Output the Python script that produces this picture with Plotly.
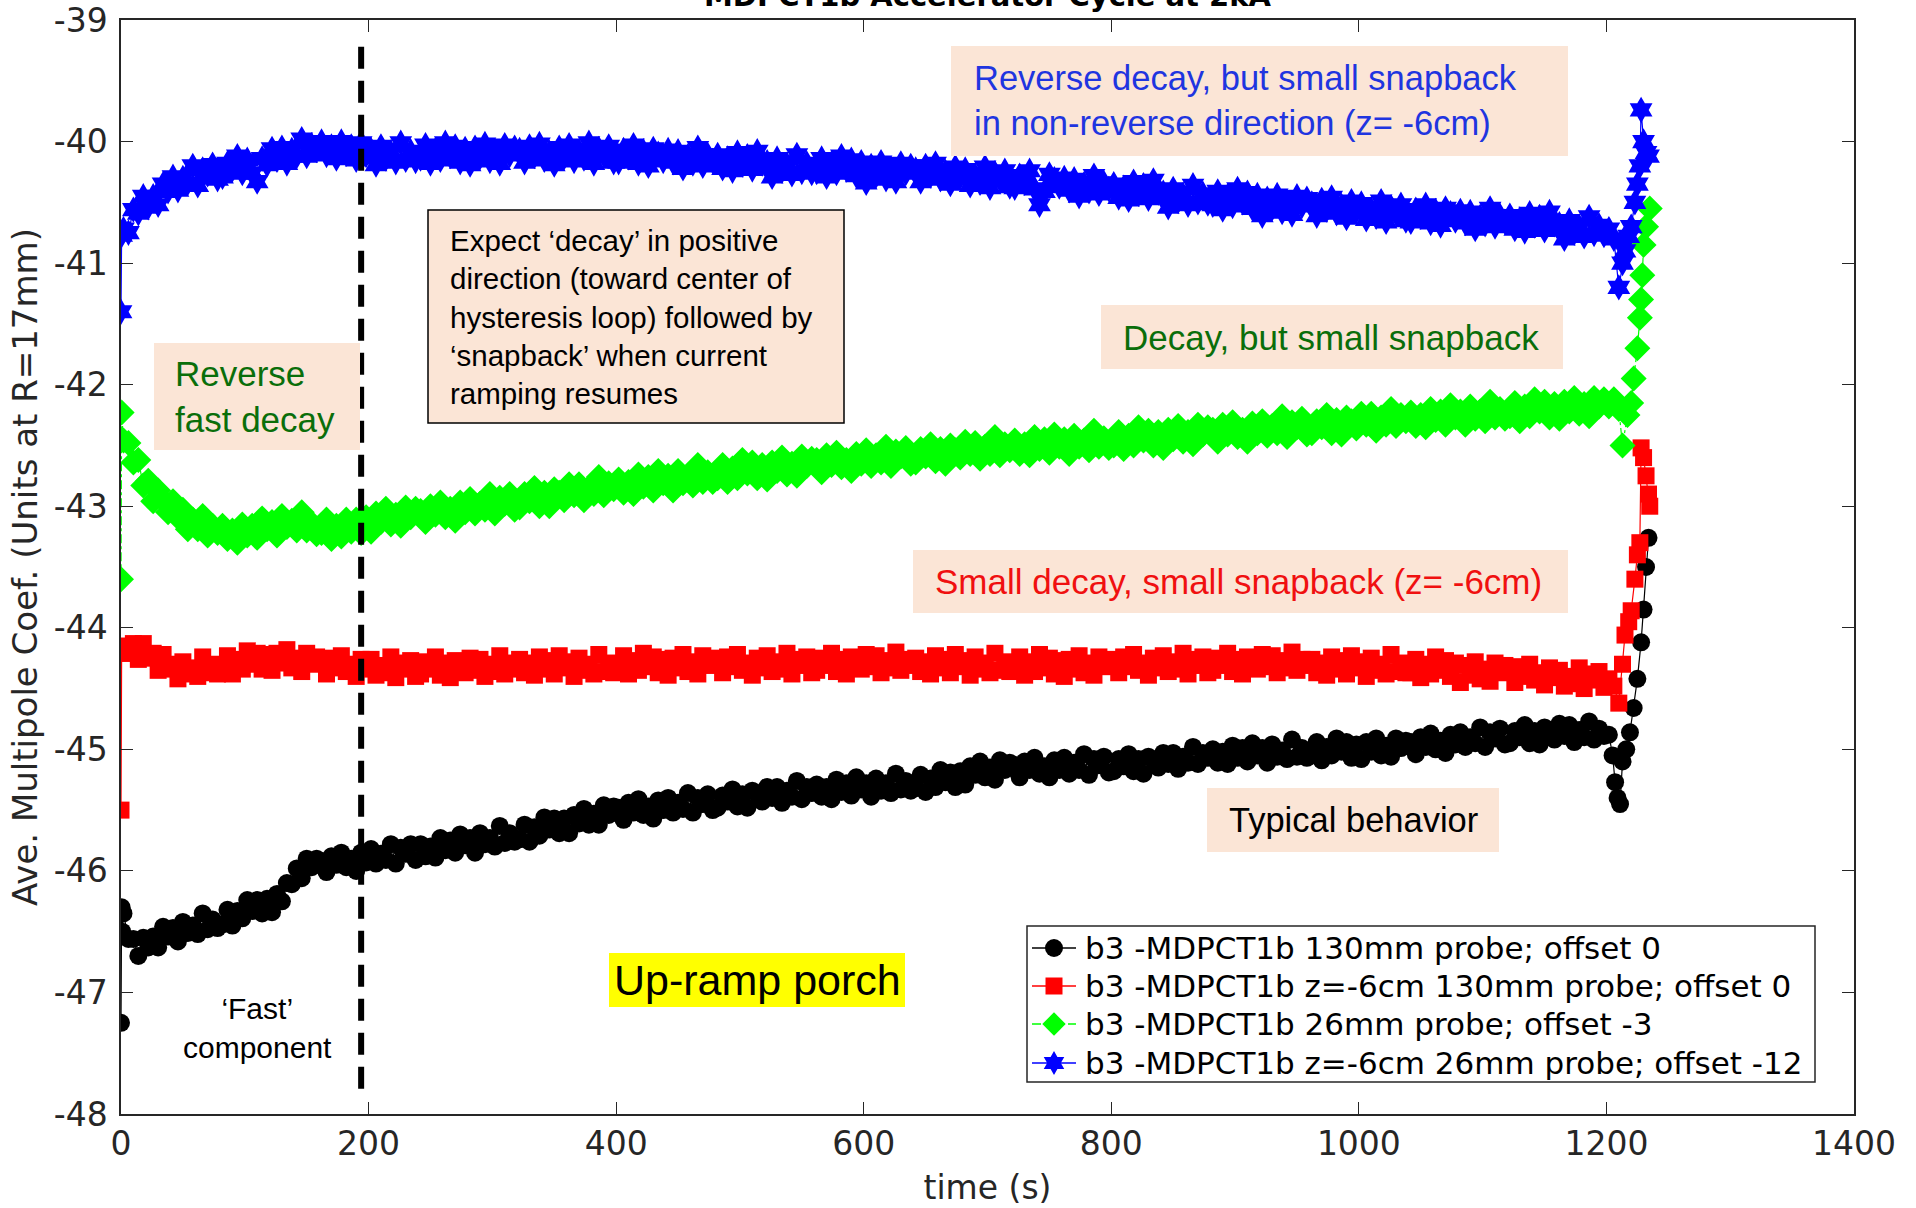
import plotly.graph_objects as go

# ---------------- data ----------------
porch_times = list(range(2, 1202, 4))  # sample times on the up-ramp porch (s)

black_start_t = [0, 0.5, 1]
black_start_v = [-47.25, -46.30, -46.50]
black_porch = [
    -46.35, -46.56, -46.56, -46.70, -46.55, -46.63, -46.54, -46.63, -46.46, -46.54, -46.47, -46.58, -46.42, -46.51, -46.45, -46.52, -46.35, -46.48, -46.40, -46.47,
    -46.44, -46.32, -46.45, -46.33, -46.39, -46.24, -46.33, -46.24, -46.35, -46.23, -46.34, -46.19, -46.25, -46.10, -46.11, -45.98, -46.06, -45.90, -45.97, -45.90,
    -45.92, -46.01, -45.88, -45.95, -45.85, -45.97, -45.90, -46.00, -45.85, -45.93, -45.82, -45.94, -45.86, -45.91, -45.78, -45.94, -45.81, -45.86, -45.78, -45.91,
    -45.78, -45.88, -45.80, -45.89, -45.73, -45.83, -45.75, -45.85, -45.70, -45.79, -45.73, -45.85, -45.69, -45.78, -45.73, -45.80, -45.63, -45.77, -45.69, -45.76,
    -45.74, -45.62, -45.76, -45.64, -45.71, -45.56, -45.66, -45.57, -45.69, -45.57, -45.69, -45.54, -45.61, -45.49, -45.62, -45.53, -45.62, -45.46, -45.54, -45.47,
    -45.48, -45.58, -45.44, -45.52, -45.41, -45.54, -45.47, -45.57, -45.42, -45.50, -45.40, -45.52, -45.44, -45.49, -45.36, -45.52, -45.40, -45.45, -45.37, -45.50,
    -45.48, -45.38, -45.43, -45.33, -45.47, -45.37, -45.48, -45.34, -45.37, -45.43, -45.31, -45.40, -45.31, -45.44, -45.34, -45.39, -45.26, -45.41, -45.31, -45.36,
    -45.29, -45.39, -45.31, -45.41, -45.25, -45.35, -45.28, -45.38, -45.23, -45.33, -45.28, -45.39, -45.24, -45.34, -45.28, -45.36, -45.20, -45.33, -45.26, -45.34,
    -45.32, -45.21, -45.35, -45.24, -45.31, -45.17, -45.27, -45.19, -45.31, -45.18, -45.29, -45.14, -45.21, -45.10, -45.23, -45.15, -45.25, -45.09, -45.17, -45.11,
    -45.13, -45.23, -45.10, -45.17, -45.07, -45.20, -45.14, -45.23, -45.09, -45.17, -45.07, -45.20, -45.11, -45.17, -45.04, -45.21, -45.08, -45.13, -45.06, -45.19,
    -45.18, -45.08, -45.14, -45.04, -45.18, -45.08, -45.20, -45.06, -45.09, -45.15, -45.03, -45.12, -45.03, -45.16, -45.06, -45.11, -44.98, -45.12, -45.03, -45.07,
    -45.00, -45.11, -45.02, -45.12, -44.97, -45.07, -44.99, -45.10, -44.95, -45.05, -44.99, -45.11, -44.96, -45.06, -45.01, -45.08, -44.92, -45.06, -44.99, -45.07,
    -45.05, -44.94, -45.09, -44.98, -45.05, -44.91, -45.02, -44.94, -45.07, -44.96, -45.08, -44.94, -45.02, -44.91, -45.05, -44.97, -45.06, -44.91, -44.99, -44.93,
    -44.94, -45.04, -44.90, -44.98, -44.87, -45.00, -44.93, -45.03, -44.88, -44.96, -44.86, -44.98, -44.90, -44.95, -44.82, -44.98, -44.86, -44.91, -44.83, -44.96,
    -44.95, -44.85, -44.90, -44.80, -44.95, -44.85, -44.96, -44.82, -44.86, -44.92, -44.79, -44.89, -44.80, -44.94, -44.84, -44.90, -44.77, -44.92, -44.83, -44.89,
]
black_end_t = [1202, 1205, 1207, 1209, 1211, 1213, 1216, 1219, 1222, 1225, 1228, 1230, 1232, 1234]
black_end_v = [-44.88, -45.05, -45.27, -45.40, -45.45, -45.10, -45.00, -44.86, -44.66, -44.42, -44.12, -43.85, -43.50, -43.26]

red_start_t = [0, 0.5]
red_start_v = [-45.50, -44.21]
red_porch = [
    -44.15, -44.21, -44.13, -44.26, -44.13, -44.25, -44.21, -44.35, -44.22, -44.34, -44.30, -44.42, -44.28, -44.38, -44.33, -44.40, -44.24, -44.37, -44.30, -44.38,
    -44.35, -44.23, -44.38, -44.26, -44.34, -44.19, -44.30, -44.21, -44.34, -44.22, -44.35, -44.21, -44.29, -44.18, -44.33, -44.25, -44.36, -44.21, -44.30, -44.24,
    -44.28, -44.38, -44.25, -44.33, -44.23, -44.36, -44.30, -44.40, -44.26, -44.34, -44.26, -44.39, -44.31, -44.37, -44.24, -44.41, -44.29, -44.34, -44.27, -44.40,
    -44.38, -44.28, -44.34, -44.24, -44.39, -44.29, -44.41, -44.27, -44.31, -44.37, -44.25, -44.35, -44.26, -44.40, -44.30, -44.36, -44.23, -44.38, -44.29, -44.34,
    -44.26, -44.37, -44.29, -44.39, -44.24, -44.34, -44.27, -44.38, -44.23, -44.33, -44.28, -44.40, -44.25, -44.35, -44.30, -44.38, -44.22, -44.36, -44.29, -44.37,
    -44.34, -44.23, -44.38, -44.27, -44.35, -44.21, -44.32, -44.24, -44.37, -44.26, -44.39, -44.25, -44.33, -44.22, -44.36, -44.28, -44.38, -44.23, -44.31, -44.25,
    -44.27, -44.37, -44.24, -44.32, -44.22, -44.35, -44.29, -44.39, -44.25, -44.33, -44.23, -44.36, -44.28, -44.34, -44.21, -44.38, -44.26, -44.31, -44.24, -44.37,
    -44.35, -44.25, -44.31, -44.21, -44.36, -44.26, -44.38, -44.24, -44.28, -44.34, -44.22, -44.32, -44.23, -44.37, -44.27, -44.33, -44.20, -44.35, -44.26, -44.31,
    -44.25, -44.36, -44.28, -44.38, -44.23, -44.33, -44.26, -44.37, -44.22, -44.32, -44.27, -44.39, -44.24, -44.34, -44.29, -44.37, -44.21, -44.35, -44.28, -44.36,
    -44.35, -44.24, -44.39, -44.28, -44.36, -44.22, -44.33, -44.25, -44.38, -44.27, -44.40, -44.26, -44.34, -44.23, -44.37, -44.29, -44.39, -44.24, -44.32, -44.26,
    -44.27, -44.37, -44.24, -44.32, -44.22, -44.35, -44.29, -44.39, -44.25, -44.33, -44.23, -44.36, -44.28, -44.34, -44.21, -44.38, -44.26, -44.31, -44.24, -44.37,
    -44.35, -44.25, -44.31, -44.21, -44.36, -44.26, -44.38, -44.24, -44.28, -44.34, -44.22, -44.32, -44.23, -44.37, -44.27, -44.33, -44.20, -44.35, -44.26, -44.31,
    -44.26, -44.37, -44.29, -44.39, -44.24, -44.34, -44.27, -44.38, -44.23, -44.33, -44.28, -44.40, -44.25, -44.35, -44.30, -44.38, -44.22, -44.36, -44.29, -44.37,
    -44.37, -44.26, -44.41, -44.30, -44.38, -44.24, -44.35, -44.27, -44.40, -44.29, -44.45, -44.31, -44.39, -44.28, -44.42, -44.34, -44.44, -44.29, -44.37, -44.31,
    -44.35, -44.45, -44.32, -44.40, -44.30, -44.43, -44.37, -44.47, -44.33, -44.41, -44.35, -44.48, -44.40, -44.46, -44.33, -44.50, -44.38, -44.43, -44.36, -44.49,
]
red_end_t = [1202, 1206, 1210, 1213, 1215, 1218, 1220, 1223, 1225, 1227, 1228, 1230, 1232, 1234, 1235]
red_end_v = [-44.42, -44.48, -44.62, -44.30, -44.06, -43.95, -43.86, -43.60, -43.40, -43.30, -42.52, -42.60, -42.75, -42.90, -43.00]

green_start_t = [0, 0.5]
green_start_v = [-43.60, -42.23]
green_porch = [
    -42.46, -42.48, -42.64, -42.62, -42.83, -42.79, -42.96, -42.87, -42.95, -43.05, -42.96, -43.09, -43.03, -43.19, -43.11, -43.19, -43.08, -43.24, -43.16, -43.22,
    -43.16, -43.27, -43.20, -43.30, -43.15, -43.24, -43.16, -43.26, -43.10, -43.19, -43.13, -43.24, -43.08, -43.17, -43.12, -43.20, -43.05, -43.20, -43.14, -43.23,
    -43.22, -43.11, -43.27, -43.16, -43.25, -43.11, -43.21, -43.11, -43.22, -43.09, -43.21, -43.06, -43.13, -43.02, -43.15, -43.07, -43.16, -43.01, -43.09, -43.02,
    -43.04, -43.13, -43.00, -43.07, -42.97, -43.09, -43.02, -43.12, -42.97, -43.05, -42.94, -43.06, -42.98, -43.03, -42.90, -43.06, -42.93, -42.98, -42.90, -43.03,
    -43.01, -42.90, -42.96, -42.85, -43.00, -42.89, -43.00, -42.86, -42.89, -42.95, -42.82, -42.91, -42.82, -42.95, -42.85, -42.90, -42.76, -42.91, -42.81, -42.86,
    -42.78, -42.89, -42.80, -42.90, -42.74, -42.84, -42.76, -42.87, -42.71, -42.81, -42.75, -42.87, -42.71, -42.81, -42.75, -42.83, -42.66, -42.80, -42.72, -42.80,
    -42.77, -42.66, -42.80, -42.69, -42.77, -42.62, -42.73, -42.64, -42.77, -42.66, -42.78, -42.64, -42.71, -42.60, -42.74, -42.65, -42.75, -42.59, -42.67, -42.61,
    -42.62, -42.72, -42.58, -42.66, -42.56, -42.68, -42.62, -42.71, -42.57, -42.65, -42.54, -42.67, -42.58, -42.64, -42.51, -42.67, -42.55, -42.59, -42.52, -42.65,
    -42.64, -42.53, -42.59, -42.49, -42.63, -42.53, -42.65, -42.50, -42.54, -42.60, -42.47, -42.57, -42.48, -42.61, -42.51, -42.57, -42.43, -42.58, -42.49, -42.54,
    -42.46, -42.57, -42.49, -42.58, -42.43, -42.53, -42.45, -42.56, -42.41, -42.51, -42.45, -42.57, -42.42, -42.51, -42.46, -42.54, -42.38, -42.51, -42.44, -42.52,
    -42.50, -42.39, -42.53, -42.42, -42.50, -42.35, -42.46, -42.38, -42.50, -42.39, -42.52, -42.37, -42.45, -42.34, -42.47, -42.39, -42.49, -42.33, -42.41, -42.35,
    -42.37, -42.47, -42.33, -42.41, -42.31, -42.43, -42.37, -42.47, -42.32, -42.40, -42.30, -42.42, -42.34, -42.40, -42.26, -42.43, -42.31, -42.35, -42.28, -42.41,
    -42.40, -42.30, -42.35, -42.25, -42.40, -42.29, -42.41, -42.27, -42.30, -42.36, -42.24, -42.33, -42.24, -42.38, -42.27, -42.33, -42.20, -42.34, -42.25, -42.30,
    -42.23, -42.34, -42.25, -42.35, -42.20, -42.29, -42.22, -42.33, -42.17, -42.27, -42.22, -42.33, -42.18, -42.28, -42.22, -42.30, -42.14, -42.27, -42.20, -42.28,
    -42.26, -42.15, -42.30, -42.18, -42.26, -42.12, -42.22, -42.14, -42.27, -42.16, -42.28, -42.14, -42.22, -42.11, -42.24, -42.16, -42.26, -42.11, -42.18, -42.12,
]
green_end_t = [1202, 1206, 1210, 1213, 1217, 1220, 1222, 1225, 1227, 1228, 1229, 1230, 1232, 1235]
green_end_v = [-42.18, -42.12, -42.20, -42.50, -42.25, -42.15, -41.95, -41.70, -41.45, -41.30, -41.10, -40.85, -40.70, -40.55]

blue_start_t = [0, 0.5]
blue_start_v = [-41.40, -40.77]
blue_porch = [
    -40.72, -40.75, -40.56, -40.59, -40.45, -40.54, -40.45, -40.52, -40.35, -40.41, -40.29, -40.40, -40.30, -40.34, -40.20, -40.36, -40.23, -40.27, -40.19, -40.31,
    -40.29, -40.18, -40.23, -40.12, -40.26, -40.15, -40.26, -40.33, -40.14, -40.19, -40.06, -40.15, -40.05, -40.18, -40.07, -40.12, -39.98, -40.12, -40.03, -40.07,
    -40.00, -40.11, -40.04, -40.14, -40.00, -40.10, -40.04, -40.15, -40.01, -40.11, -40.07, -40.19, -40.04, -40.14, -40.09, -40.17, -40.01, -40.15, -40.08, -40.16,
    -40.14, -40.03, -40.18, -40.07, -40.15, -40.01, -40.12, -40.04, -40.17, -40.06, -40.19, -40.05, -40.13, -40.02, -40.16, -40.08, -40.18, -40.03, -40.11, -40.05,
    -40.07, -40.17, -40.04, -40.12, -40.02, -40.15, -40.09, -40.19, -40.05, -40.13, -40.03, -40.16, -40.08, -40.14, -40.01, -40.18, -40.06, -40.11, -40.04, -40.17,
    -40.17, -40.07, -40.13, -40.03, -40.18, -40.08, -40.20, -40.06, -40.10, -40.16, -40.07, -40.17, -40.08, -40.22, -40.12, -40.18, -40.05, -40.20, -40.11, -40.16,
    -40.11, -40.22, -40.14, -40.24, -40.09, -40.19, -40.12, -40.23, -40.08, -40.18, -40.17, -40.29, -40.14, -40.24, -40.19, -40.27, -40.11, -40.25, -40.18, -40.26,
    -40.25, -40.14, -40.29, -40.18, -40.26, -40.12, -40.23, -40.15, -40.28, -40.17, -40.34, -40.20, -40.28, -40.17, -40.31, -40.23, -40.33, -40.18, -40.26, -40.20,
    -40.23, -40.33, -40.20, -40.28, -40.18, -40.31, -40.25, -40.35, -40.21, -40.29, -40.23, -40.36, -40.28, -40.34, -40.21, -40.38, -40.26, -40.31, -40.24, -40.37,
    -40.38, -40.28, -40.34, -40.24, -40.39, -40.52, -40.41, -40.27, -40.31, -40.37, -40.30, -40.40, -40.31, -40.45, -40.35, -40.41, -40.28, -40.43, -40.34, -40.39,
    -40.35, -40.46, -40.38, -40.48, -40.33, -40.43, -40.36, -40.47, -40.32, -40.42, -40.42, -40.54, -40.39, -40.49, -40.44, -40.52, -40.36, -40.50, -40.43, -40.51,
    -40.52, -40.41, -40.56, -40.45, -40.53, -40.39, -40.50, -40.42, -40.55, -40.44, -40.61, -40.47, -40.55, -40.44, -40.58, -40.50, -40.60, -40.45, -40.53, -40.47,
    -40.51, -40.61, -40.48, -40.56, -40.46, -40.59, -40.53, -40.63, -40.49, -40.57, -40.51, -40.64, -40.56, -40.62, -40.49, -40.66, -40.54, -40.59, -40.52, -40.65,
    -40.66, -40.56, -40.62, -40.52, -40.67, -40.57, -40.69, -40.55, -40.59, -40.65, -40.57, -40.67, -40.58, -40.72, -40.62, -40.68, -40.55, -40.70, -40.61, -40.66,
    -40.61, -40.72, -40.64, -40.74, -40.59, -40.69, -40.62, -40.73, -40.58, -40.68, -40.68, -40.80, -40.65, -40.75, -40.70, -40.78, -40.62, -40.76, -40.69, -40.77,
]
blue_end_t = [1202, 1206, 1210, 1213, 1215, 1218, 1220, 1223, 1225, 1227, 1228, 1230, 1232, 1234]
blue_end_v = [-40.72, -40.80, -41.20, -41.00, -40.90, -40.78, -40.70, -40.50, -40.35, -40.20, -39.74, -40.00, -40.09, -40.12]

series_names = [
    "b3 -MDPCT1b 130mm probe; offset 0",
    "b3 -MDPCT1b z=-6cm 130mm probe; offset 0",
    "b3 -MDPCT1b 26mm probe; offset -3",
    "b3 -MDPCT1b z=-6cm 26mm probe; offset -12",
]
fast_boundary_t = 194

x_ticks = [0, 200, 400, 600, 800, 1000, 1200, 1400]
x_ticktext = ["0", "200", "400", "600", "800", "1000", "1200", "1400"]
y_ticks = [-48, -47, -46, -45, -44, -43, -42, -41, -40, -39]
y_ticktext = ["-48", "-47", "-46", "-45", "-44", "-43", "-42", "-41", "-40", "-39"]

# ---------------- figure ----------------
W, H = 1916, 1208
ML, MR, MT, MB = 121, 62, 20, 94
PW, PH = W - ML - MR, H - MT - MB


def px(x):
    return (x - ML) / PW


def py(y):
    return (H - MB - y) / PH


fig = go.Figure()

specs = [
    (black_start_t, black_start_v, black_porch, black_end_t, black_end_v, "#000000", "circle", 18, "solid"),
    (red_start_t, red_start_v, red_porch, red_end_t, red_end_v, "#ff0000", "square", 17, "solid"),
    (green_start_t, green_start_v, green_porch, green_end_t, green_end_v, "#00ff00", "diamond", 20, "dashdot"),
    (blue_start_t, blue_start_v, blue_porch, blue_end_t, blue_end_v, "#0000ff", "hexagram", 20, "solid"),
]
for name, (st, sv, pv, et, ev, col, sym, size, dash) in zip(series_names, specs):
    t = list(st) + porch_times[:len(pv)] + list(et)
    v = list(sv) + list(pv) + list(ev)
    fig.add_trace(go.Scatter(
        x=t, y=v, mode="lines+markers", name=name, showlegend=False,
        line=dict(color=col, width=1.2, dash=dash),
        marker=dict(symbol=sym, size=size, color=col, line=dict(width=0)),
    ))

# dashed vertical separator
fig.add_shape(type="line", xref="x", yref="y", x0=fast_boundary_t, x1=fast_boundary_t,
              y0=-39.22, y1=-47.8, line=dict(color="black", width=6, dash="22px,12px"))

PEACH = "#FBE5D6"
FONT = "Liberation Sans"
AX = "#262626"


def textbox(text, x0, y0, x1, y1, color, size, bg=PEACH, border=None, align="left", pad=20):
    fig.add_shape(type="rect", xref="paper", yref="paper", x0=px(x0), x1=px(x1), y0=py(y1), y1=py(y0),
                  fillcolor=bg, line=dict(color=border if border else bg, width=1.5 if border else 0),
                  layer="above")
    if align == "left":
        fig.add_annotation(xref="paper", yref="paper", x=px(x0 + pad), y=py((y0 + y1) / 2),
                           xanchor="left", yanchor="middle", text=text, showarrow=False, align="left",
                           font=dict(family=FONT, size=size, color=color))
    else:
        fig.add_annotation(xref="paper", yref="paper", x=px((x0 + x1) / 2), y=py((y0 + y1) / 2),
                           xanchor="center", yanchor="middle", text=text, showarrow=False, align="center",
                           font=dict(family=FONT, size=size, color=color))


BLUE_T = "#1f35e0"
GREEN_T = "#0a6e0a"
RED_T = "#f01010"

textbox("Reverse decay, but small snapback<br>in non-reverse direction (z= -6cm)",
        951, 46, 1568, 156, BLUE_T, 34.5, pad=21)
textbox("Expect ‘decay’ in positive<br>direction (toward center of<br>hysteresis loop) followed by<br>‘snapback’ when current<br>ramping resumes",
        428, 210, 844, 423, "black", 29.5, border="black", pad=20)
textbox("Reverse<br>fast decay", 154, 343, 360, 450, GREEN_T, 35, pad=19)
textbox("Decay, but small snapback", 1101, 305, 1563, 369, GREEN_T, 35, pad=20)
textbox("Small decay, small snapback (z= -6cm)", 913, 550, 1568, 613, RED_T, 35, pad=20)
textbox("Typical behavior", 1207, 788, 1499, 852, "black", 34.5, pad=20)
textbox("Up-ramp porch", 609, 953, 905, 1007, "black", 43, bg="#FFFF00", align="center")

fig.add_annotation(xref="paper", yref="paper", x=px(257), y=py(1028), xanchor="center", yanchor="middle",
                   text="‘Fast’<br>component", showarrow=False, align="center",
                   font=dict(family=FONT, size=30, color="black"))

# ---------- legend (drawn box, MATLAB style) ----------
LEG_X0, LEG_Y0, LEG_X1, LEG_Y1 = 1027, 926, 1815, 1082
leg_rows = [948, 986, 1024, 1063]
fig.add_shape(type="rect", xref="paper", yref="paper", x0=px(LEG_X0), x1=px(LEG_X1),
              y0=py(LEG_Y1), y1=py(LEG_Y0), fillcolor="white", line=dict(color=AX, width=1.5), layer="below")
fig.update_layout(
    xaxis2=dict(overlaying="x", range=[0, 1], visible=False, fixedrange=True),
    yaxis2=dict(overlaying="y", range=[0, 1], visible=False, fixedrange=True),
)
for name, (st, sv, pv, et, ev, col, sym, size, dash), ry in zip(series_names, specs, leg_rows):
    fig.add_trace(go.Scatter(x=[px(1032), px(1076)], y=[py(ry), py(ry)], xaxis="x2", yaxis="y2",
                             mode="lines", showlegend=False, hoverinfo="skip",
                             line=dict(color=col, width=1.5, dash=dash)))
    fig.add_trace(go.Scatter(x=[px(1054)], y=[py(ry)], xaxis="x2", yaxis="y2", mode="markers",
                             showlegend=False, hoverinfo="skip",
                             marker=dict(symbol=sym, size=min(size, 18), color=col, line=dict(width=0))))
    fig.add_annotation(xref="paper", yref="paper", x=px(1083), y=py(ry), xanchor="left", yanchor="middle",
                       text=name, showarrow=False, font=dict(family="DejaVu Sans", size=31, color="black"))

fig.update_layout(
    width=W, height=H,
    margin=dict(l=ML, r=MR, t=MT, b=MB, pad=0),
    paper_bgcolor="white", plot_bgcolor="white",
    title=dict(text="<b>MDPCT1b Accelerator Cycle at 2kA</b>", xref="paper", x=0.5, xanchor="center",
               yref="container", y=1 - 6 / H, yanchor="bottom",
               font=dict(family="DejaVu Sans", size=29, color="black")),
    font=dict(family="DejaVu Sans", color=AX),
    showlegend=False,
    xaxis=dict(range=[0, 1400], tickvals=x_ticks, ticktext=x_ticktext, ticks="inside", ticklen=12, tickcolor=AX,
               showline=True, linecolor=AX, linewidth=1.5, mirror="ticks", showgrid=False, zeroline=False,
               automargin=False,
               tickfont=dict(size=33, color=AX, family="DejaVu Sans"),
               title=dict(text="time (s)", font=dict(size=33, color=AX, family="DejaVu Sans"), standoff=14)),
    yaxis=dict(range=[-48, -39], tickvals=y_ticks, ticktext=y_ticktext, ticks="inside", ticklen=12, tickcolor=AX,
               showline=True, linecolor=AX, linewidth=1.5, mirror="ticks", showgrid=False, zeroline=False,
               automargin=False, ticklabelstandoff=5,
               tickfont=dict(size=33, color=AX, family="DejaVu Sans"),
               title=dict(text="Ave. Multipole Coef. (Units at R=17mm)",
                          font=dict(size=34, color=AX, family="DejaVu Sans"), standoff=6)),
)

fig.write_html("out.html", config={"displayModeBar": False},
               post_script="document.body.style.margin='0';document.body.style.overflow='hidden';")
